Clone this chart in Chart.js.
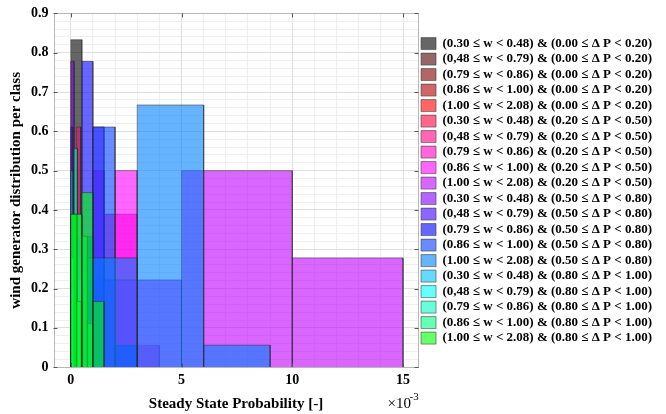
<!DOCTYPE html>
<html>
<head>
<meta charset="utf-8">
<script src="https://cdn.jsdelivr.net/npm/chart.js@4.4.0/dist/chart.umd.min.js"></script>
<style>
  html, body { margin: 0; padding: 0; background: #fff; }
  #wrap { width: 666px; height: 414px; }
</style>
</head>
<body>
<div id="wrap"><canvas id="chart-area" width="666" height="414"></canvas></div>
<script>
// wind generator classes (legend order)
var classLabels = [
  '(0.30 \u2264 w < 0.48) & (0.00 \u2264 \u0394 P < 0.20)',
  '(0,48 \u2264 w < 0.79) & (0.00 \u2264 \u0394 P < 0.20)',
  '(0.79 \u2264 w < 0.86) & (0.00 \u2264 \u0394 P < 0.20)',
  '(0.86 \u2264 w < 1.00) & (0.00 \u2264 \u0394 P < 0.20)',
  '(1.00 \u2264 w < 2.08) & (0.00 \u2264 \u0394 P < 0.20)',
  '(0.30 \u2264 w < 0.48) & (0.20 \u2264 \u0394 P < 0.50)',
  '(0,48 \u2264 w < 0.79) & (0.20 \u2264 \u0394 P < 0.50)',
  '(0.79 \u2264 w < 0.86) & (0.20 \u2264 \u0394 P < 0.50)',
  '(0.86 \u2264 w < 1.00) & (0.20 \u2264 \u0394 P < 0.50)',
  '(1.00 \u2264 w < 2.08) & (0.20 \u2264 \u0394 P < 0.50)',
  '(0.30 \u2264 w < 0.48) & (0.50 \u2264 \u0394 P < 0.80)',
  '(0,48 \u2264 w < 0.79) & (0.50 \u2264 \u0394 P < 0.80)',
  '(0.79 \u2264 w < 0.86) & (0.50 \u2264 \u0394 P < 0.80)',
  '(0.86 \u2264 w < 1.00) & (0.50 \u2264 \u0394 P < 0.80)',
  '(1.00 \u2264 w < 2.08) & (0.50 \u2264 \u0394 P < 0.80)',
  '(0.30 \u2264 w < 0.48) & (0.80 \u2264 \u0394 P < 1.00)',
  '(0,48 \u2264 w < 0.79) & (0.80 \u2264 \u0394 P < 1.00)',
  '(0.79 \u2264 w < 0.86) & (0.80 \u2264 \u0394 P < 1.00)',
  '(0.86 \u2264 w < 1.00) & (0.80 \u2264 \u0394 P < 1.00)',
  '(1.00 \u2264 w < 2.08) & (0.80 \u2264 \u0394 P < 1.00)'
];

// histogram bins per class, steady state probability in units of 1e-3
var binLeft = [
  [0, 0.5], [0], [0.25], [0], [0.25],
  [0], [0, 0.25, 0.45], [1.5, 3], [1, 2], [0, 5, 10],
  [0, 1], [0], [0, 0.5], [0, 1, 2], [0, 3, 6],
  [0, 0.1, 0.3], [0, 0.25], [0, 0.15, 0.3], [0, 0.25, 0.5, 0.75], [0, 0.5, 1]
];
var binRight = [
  [0.5, 1], [0.25], [0.5], [0.25], [0.5],
  [0.25], [0.25, 0.45, 0.65], [3, 4], [1.5, 3], [5, 10, 15],
  [0.15, 1.5], [0.1], [0.5, 1], [1, 2, 3], [3, 6, 9],
  [0.1, 0.3, 0.5], [0.25, 0.5], [0.15, 0.3, 0.45], [0.25, 0.5, 0.75, 1], [0.5, 1, 1.5]
];
// share of the class in each bin
var binShare = [
  [0.833, 0.167], [0.111], [0.111], [0.056], [0.056],
  [0.167], [0.222, 0.611, 0.167], [0.389, 0.056], [0.5, 0.5], [0.222, 0.5, 0.278],
  [0.778, 0.611], [0.611], [0.222, 0.778], [0.333, 0.611, 0.056], [0.278, 0.667, 0.056],
  [0.5, 0.278, 0.222], [0.278, 0.389], [0.278, 0.556, 0.167], [0.389, 0.167, 0.333, 0.111], [0.389, 0.444, 0.167]
];

var xTickLabels = [0, 5, 10, 15];
var yTickLabels = [0, 0.1, 0.2, 0.3, 0.4, 0.5, 0.6, 0.7, 0.8, 0.9];

var classColors = [
  [0, 0, 0], [77, 0, 0], [128, 0, 0], [179, 0, 0], [255, 0, 0],
  [255, 0, 64], [255, 0, 128], [255, 0, 191], [255, 0, 255], [191, 0, 255],
  [128, 0, 255], [64, 0, 255], [0, 0, 255], [0, 64, 255], [0, 128, 255],
  [0, 191, 255], [0, 255, 255], [0, 255, 191], [0, 255, 128], [0, 255, 0]
];

var serif = '"Liberation Serif", "Times New Roman", serif';

var datasets = classLabels.map(function(label, i) {
  var idx = binLeft[i].map(function(_, k) { return k; });
  idx.sort(function(a, b) { return binLeft[i][a] - binLeft[i][b]; });
  var pts = [];
  idx.forEach(function(k) {
    var l = binLeft[i][k], r = binRight[i][k], s = binShare[i][k];
    pts.push({x: l, y: 0}, {x: l, y: s}, {x: r, y: s}, {x: r, y: 0}, {x: r, y: null});
  });
  return {
    label: label,
    data: pts,
    backgroundColor: 'rgba(' + classColors[i].join(',') + ',0.6)',
    borderColor: 'rgba(40,40,40,0.5)',
    borderWidth: 1,
    fill: 'origin',
    pointRadius: 0,
    tension: 0,
    spanGaps: false,
    order: classLabels.length - i   // later classes on top
  };
});

function near(v, list) {
  for (var j = 0; j < list.length; j++) if (Math.abs(v - list[j]) < 1e-6) return true;
  return false;
}

// minor grid: every 1e-3 on x, every 0.02 on y
function setTicks(from, to, step) {
  return function(axis) {
    var t = [];
    for (var k = 0; from + k * step <= to + 1e-9; k++) t.push({value: Math.round((from + k * step) * 1000) / 1000});
    axis.ticks = t;
  };
}

var frame = {
  id: 'frame',
  afterDraw: function(chart) {
    var ctx = chart.ctx, a = chart.chartArea;
    ctx.save();
    ctx.strokeStyle = '#b8b8b8';
    ctx.lineWidth = 1;
    ctx.strokeRect(Math.round(a.left) + 0.5, Math.round(a.top) + 0.5,
      Math.round(a.right - a.left) - 1, Math.round(a.bottom - a.top));
    // inward tick marks
    ctx.strokeStyle = '#555';
    var ys = chart.scales.y, xs = chart.scales.x;
    yTickLabels.forEach(function(v) {
      var py = Math.round(ys.getPixelForValue(v)) + 0.5;
      ctx.beginPath();
      ctx.moveTo(a.left, py); ctx.lineTo(a.left + 4, py);
      ctx.moveTo(a.right, py); ctx.lineTo(a.right - 4, py);
      ctx.stroke();
    });
    xTickLabels.forEach(function(v) {
      var px = Math.round(xs.getPixelForValue(v)) + 0.5;
      ctx.beginPath();
      ctx.moveTo(px, a.bottom); ctx.lineTo(px, a.bottom - 4);
      ctx.moveTo(px, a.top); ctx.lineTo(px, a.top + 4);
      ctx.stroke();
    });
    // exponent label
    ctx.fillStyle = '#000';
    ctx.textBaseline = 'alphabetic';
    ctx.font = '15px ' + serif;
    ctx.fillText('\u00d710', a.right - 31, a.bottom + 41);
    ctx.font = '11px ' + serif;
    ctx.fillText('-3', a.right - 9, a.bottom + 33);
    ctx.restore();
  }
};

var config = {
  type: 'line',
  data: { datasets: datasets },
  options: {
    responsive: false,
    animation: false,
    events: [],
    layout: { padding: { left: 7, top: 7, right: 4, bottom: 1 } },
    plugins: {
      legend: {
        position: 'right',
        align: 'start',
        maxWidth: 260,
        title: { display: true, text: '', font: { size: 13 }, padding: { top: 12, bottom: 0 } },
        labels: {
          boxWidth: 15,
          boxHeight: 12,
          padding: 2.5,
          color: '#000',
          font: { family: serif, weight: 'bold', size: 13 },
          sort: function(a, b) { return a.datasetIndex - b.datasetIndex; }
        }
      },
      tooltip: { enabled: false }
    },
    scales: {
      x: {
        type: 'linear',
        min: -0.78,
        max: 15.7,
        afterBuildTicks: setTicks(0, 15, 1),
        border: { display: false },
        grid: {
          drawTicks: false,
          color: function(c) { return near(c.tick.value, xTickLabels) ? '#dedede' : '#efefef'; }
        },
        ticks: {
          autoSkip: false,
          maxRotation: 0,
          padding: 5,
          color: '#000',
          font: { family: serif, weight: 'bold', size: 14 },
          callback: function(v) { return near(v, xTickLabels) ? String(Math.round(v)) : ''; }
        },
        title: {
          display: true,
          text: 'Steady State Probability [-]',
          color: '#000',
          font: { family: serif, weight: 'bold', size: 15 },
          padding: { top: 1, bottom: 0 }
        }
      },
      y: {
        min: 0,
        max: 0.9,
        afterBuildTicks: setTicks(0, 0.9, 0.02),
        border: { display: false },
        grid: {
          drawTicks: false,
          color: function(c) { return near(c.tick.value, yTickLabels) ? '#dedede' : '#efefef'; }
        },
        ticks: {
          autoSkip: false,
          padding: 5,
          color: '#000',
          font: { family: serif, weight: 'bold', size: 14 },
          callback: function(v) {
            if (!near(v, yTickLabels)) return '';
            return v === 0 ? '0' : (Math.round(v * 10) / 10).toFixed(1);
          }
        },
        title: {
          display: true,
          text: 'wind generator distribution per class',
          color: '#000',
          font: { family: serif, weight: 'bold', size: 15 },
          padding: { top: 0, bottom: 1 }
        }
      }
    }
  },
  plugins: [frame]
};

window.onload = function() {
  var ctx = document.getElementById('chart-area').getContext('2d');
  window.myChart = new Chart(ctx, config);
};
</script>
</body>
</html>
